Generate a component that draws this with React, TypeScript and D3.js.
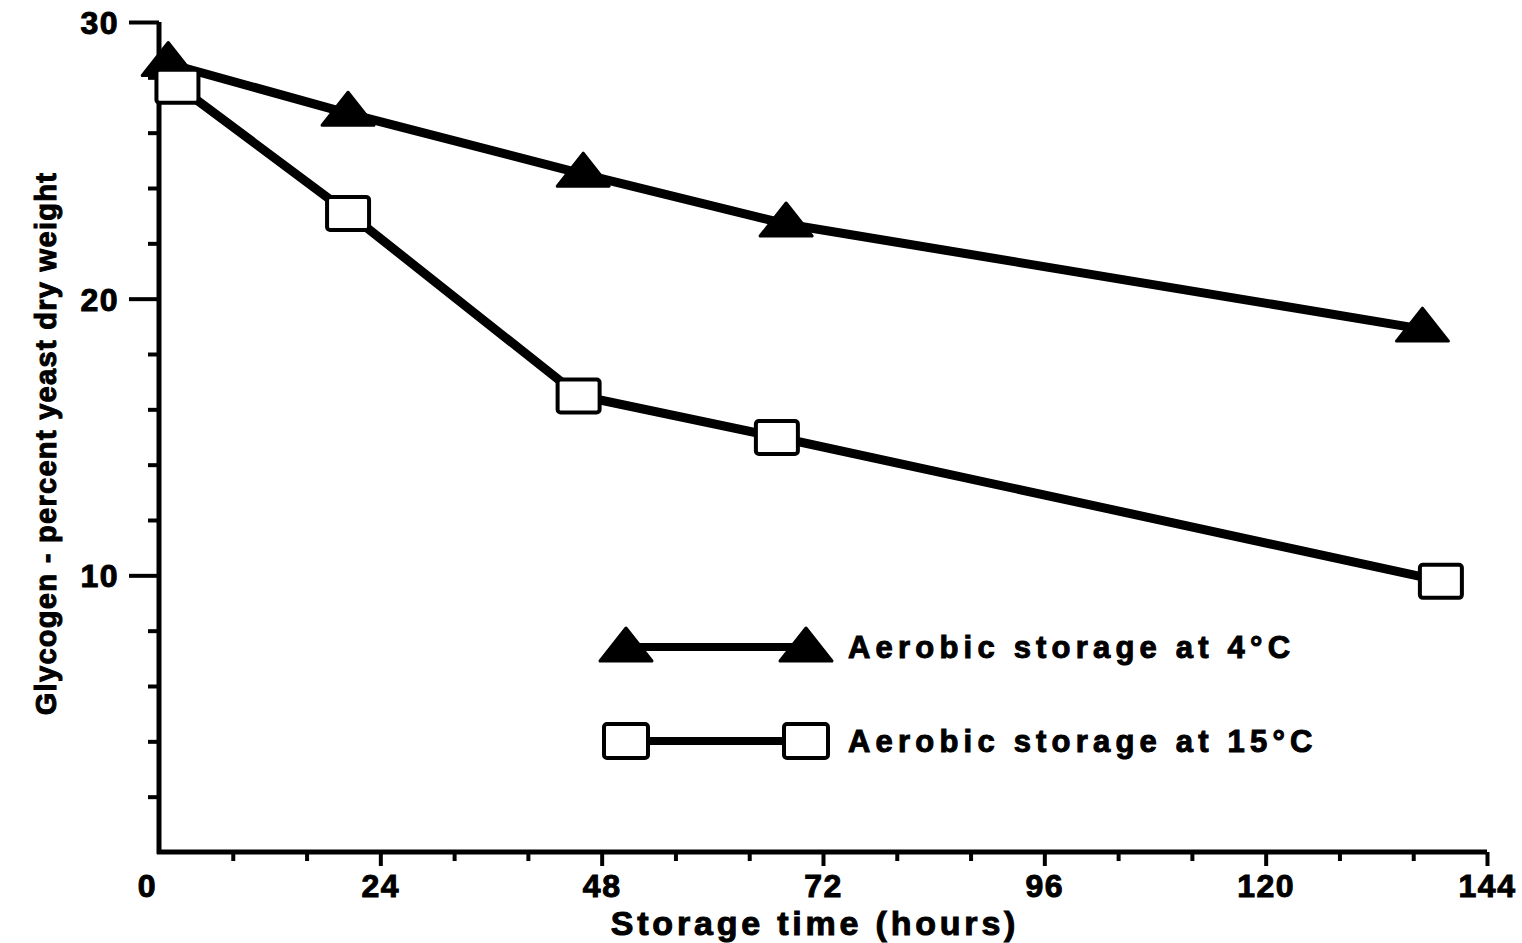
import React, { useEffect, useRef } from "react";
import * as d3 from "d3";

// storage time (hours) and glycogen (% yeast dry weight)
const hours4C = [1, 20.5, 46, 68, 137];
const glycogen4C = [28.5, 26.7, 24.5, 22.7, 18.9];
const hours15C = [2, 20.5, 45.5, 67, 139];
const glycogen15C = [27.7, 23.1, 16.5, 15.0, 9.8];

const xMajorTicks = [0, 24, 48, 72, 96, 120, 144];
const yMajorTicks = [10, 20, 30];
const legendLabels = ["Aerobic storage at 4°C", "Aerobic storage at 15°C"];

const W = 1522;
const H = 943;
const FONT = "'Liberation Sans', Arial, Helvetica, sans-serif";

const App: React.FC = () => {
  const svgRef = useRef<SVGSVGElement>(null);

  useEffect(() => {
    if (!svgRef.current) return;
    const svg = d3.select(svgRef.current);
    svg.selectAll("*").remove();

    const x = d3.scaleLinear().domain([0, 144]).range([159, 1487]);
    const y = d3.scaleLinear().domain([0, 30]).range([852, 22]);

    // heavy scanned-print look for text
    const heavy = (sel: any, size: number, spacing: number) =>
      sel.style("font", `bold ${size}px ${FONT}`)
        .style("letter-spacing", `${spacing}px`)
        .attr("fill", "#000")
        .attr("stroke", "#000")
        .attr("stroke-width", 1);

    // y axis
    const yAxis = d3.axisLeft(y)
      .tickValues(d3.range(2, 31, 2))
      .tickSize(0)
      .tickFormat(() => "");
    const gy = svg.append("g").attr("transform", `translate(${x(0)},0)`).call(yAxis);
    gy.select(".domain").attr("stroke-width", 5).attr("d", `M0,${y(30)}V${y(0) + 2}`);
    gy.selectAll(".tick line")
      .attr("stroke", "#000")
      .attr("stroke-width", 4)
      .attr("x2", (d: any) => (yMajorTicks.includes(d) ? -30 : -11));
    heavy(
      gy.selectAll(".tick")
        .filter((d: any) => yMajorTicks.includes(d))
        .append("text")
        .attr("x", -40)
        .attr("dy", "0.36em")
        .attr("text-anchor", "end")
        .text((d: any) => String(d)),
      32, 1.5
    );

    // x axis
    const xAxis = d3.axisBottom(x)
      .tickValues(d3.range(0, 145, 8))
      .tickSize(0)
      .tickFormat(() => "");
    const gx = svg.append("g").attr("transform", `translate(0,${y(0)})`).call(xAxis);
    gx.select(".domain").attr("stroke-width", 5).attr("d", `M${x(0) - 2},0H${x(144)}`);
    gx.selectAll(".tick line")
      .attr("stroke", "#000")
      .attr("stroke-width", 4)
      .attr("y2", (d: any) => (d === 0 ? 0 : xMajorTicks.includes(d) ? 14 : 9));
    heavy(
      gx.selectAll(".tick")
        .filter((d: any) => xMajorTicks.includes(d))
        .append("text")
        .attr("y", 45)
        .attr("x", (d: any) => (d === 0 ? -12 : 0))
        .attr("text-anchor", "middle")
        .text((d: any) => String(d)),
      32, 1.5
    );

    // axis titles
    heavy(
      svg.append("text")
        .attr("x", 815)
        .attr("y", 935)
        .attr("text-anchor", "middle")
        .text("Storage time (hours)"),
      34, 3.8
    );

    heavy(
      svg.append("text")
        .attr("transform", `translate(56,${(175 + 712) / 2}) rotate(-90)`)
        .attr("text-anchor", "middle")
        .text("Glycogen - percent yeast dry weight"),
      29, 1.3
    );

    const line = d3.line<[number, number]>()
      .x(d => x(d[0]))
      .y(d => y(d[1]));

    const s4 = hours4C.map((h, i) => [h, glycogen4C[i]] as [number, number]);
    const s15 = hours15C.map((h, i) => [h, glycogen15C[i]] as [number, number]);

    const tri = (cx: number, cy: number) =>
      `M${cx},${cy - 21}L${cx + 26},${cy + 12}L${cx - 26},${cy + 12}Z`;

    const drawSeries = (data: [number, number][], marker: "tri" | "sq") => {
      svg.append("path")
        .datum(data)
        .attr("d", line)
        .attr("fill", "none")
        .attr("stroke", "#000")
        .attr("stroke-width", 9)
        .attr("stroke-linejoin", "round");
      if (marker === "tri") {
        svg.append("g").selectAll("path")
          .data(data)
          .enter()
          .append("path")
          .attr("d", d => tri(x(d[0]), y(d[1])))
          .attr("fill", "#000")
          .attr("stroke", "#000")
          .attr("stroke-width", 3)
          .attr("stroke-linejoin", "round");
      } else {
        svg.append("g").selectAll("rect")
          .data(data)
          .enter()
          .append("rect")
          .attr("x", d => x(d[0]) - 21)
          .attr("y", d => y(d[1]) - 16)
          .attr("width", 42)
          .attr("height", 33)
          .attr("rx", 3)
          .attr("fill", "#fff")
          .attr("stroke", "#000")
          .attr("stroke-width", 4);
      }
    };

    drawSeries(s4, "tri");
    drawSeries(s15, "sq");

    // legend
    const legend = svg.append("g").attr("transform", "translate(600,0)");
    const rows = [647, 741];
    legendLabels.forEach((label, i) => {
      const ly = rows[i];
      const x1 = 26;
      const x2 = 206;
      legend.append("line")
        .attr("x1", x1).attr("x2", x2)
        .attr("y1", ly).attr("y2", ly)
        .attr("stroke", "#000")
        .attr("stroke-width", 8);
      [x1, x2].forEach(cx => {
        if (i === 0) {
          legend.append("path")
            .attr("d", tri(cx, ly + 2))
            .attr("fill", "#000")
            .attr("stroke", "#000")
            .attr("stroke-width", 3)
            .attr("stroke-linejoin", "round");
        } else {
          legend.append("rect")
            .attr("x", cx - 22).attr("y", ly - 17)
            .attr("width", 44).attr("height", 34)
            .attr("rx", 3)
            .attr("fill", "#fff")
            .attr("stroke", "#000")
            .attr("stroke-width", 4);
        }
      });
      heavy(
        legend.append("text")
          .attr("x", 248)
          .attr("y", ly + 11)
          .text(label),
        31, 5.2
      );
    });
  }, []);

  return (
    <div style={{ position: "absolute", left: 0, top: 0, background: "#fff" }}>
      <svg ref={svgRef} width={W} height={H} style={{ display: "block" }}></svg>
    </div>
  );
};

export default App;
